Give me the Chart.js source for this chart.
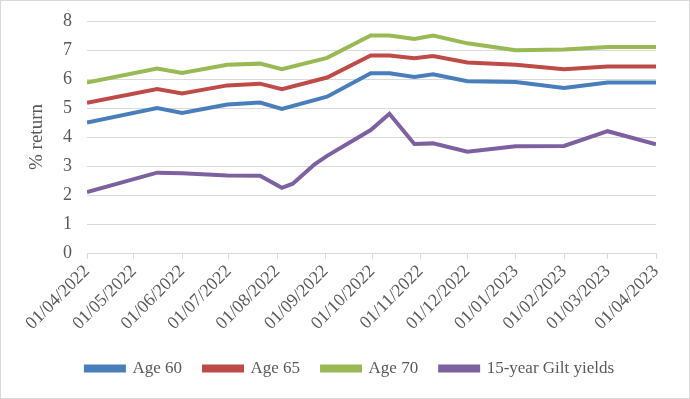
<!DOCTYPE html>
<html>
<head>
<meta charset="utf-8">
<script src="https://cdn.jsdelivr.net/npm/chart.js@4.4.1/dist/chart.umd.min.js"></script>
<style>
  html, body { margin: 0; padding: 0; background: #fff; }
  #wrap { width: 690px; height: 399px; position: relative; }
</style>
</head>
<body>
<div id="wrap"><canvas id="chart"></canvas></div>
<script>
// x-axis tick labels (month starts)
const tickLabels = [
  '01/04/2022', '01/05/2022', '01/06/2022', '01/07/2022', '01/08/2022',
  '01/09/2022', '01/10/2022', '01/11/2022', '01/12/2022', '01/01/2023',
  '01/02/2023', '01/03/2023', '01/04/2023'
];

// observation dates
const dates = [
  '2022-04-01', '2022-05-16', '2022-06-01', '2022-06-30', '2022-07-21',
  '2022-08-04', '2022-08-11', '2022-08-25', '2022-09-02', '2022-09-30',
  '2022-10-12', '2022-10-28', '2022-11-09', '2022-12-01', '2023-01-01',
  '2023-02-01', '2023-03-01', '2023-04-01'
];

const age60 = [4.50, 5.00, 4.83, 5.12, 5.19, 4.97, null, null, 5.39, 6.20, 6.20, 6.07, 6.16, 5.92, 5.90, 5.69, 5.88, 5.88];
const age65 = [5.18, 5.65, 5.50, 5.78, 5.84, 5.65, null, null, 6.05, 6.81, 6.81, 6.72, 6.79, 6.57, 6.49, 6.34, 6.43, 6.43];
const age70 = [5.88, 6.36, 6.21, 6.49, 6.53, 6.34, null, null, 6.73, 7.50, 7.50, 7.38, 7.50, 7.23, 6.99, 7.02, 7.10, 7.10];
const gilt  = [2.10, 2.77, 2.75, 2.67, 2.66, 2.25, 2.39, 3.06, 3.35, 4.24, 4.80, 3.76, 3.78, 3.49, 3.68, 3.69, 4.20, 3.75];

const DAY   = 86400000;
const START = Date.UTC(2022, 3, 1);

const isoDay = s => {
  const [y, m, d] = s.split('-').map(Number);
  return Math.round((Date.UTC(y, m - 1, d) - START) / DAY);
};
const labelDay = s => {
  const [d, m, y] = s.split('/').map(Number);
  return Math.round((Date.UTC(y, m - 1, d) - START) / DAY);
};

const FONT       = 'Liberation Serif';
const TEXT_COLOR = '#595959';
const GRID_COLOR = '#d9d9d9';

function series(label, values, color) {
  return {
    label,
    data: values.map((v, i) => ({ x: isoDay(dates[i]), y: v })),
    borderColor:     color,
    backgroundColor: color,
    borderWidth:     4,
    pointRadius:     0,
    tension:         0,
    spanGaps:        true,
  };
}

// thin outer frame + nudge the legend to sit under the plot like the original
const frame = {
  id: 'frame',
  afterLayout(c) {
    c.legend.left  += 22;
    c.legend.right += 22;
  },
  afterDraw(c) {
    const ctx = c.ctx;
    ctx.save();
    ctx.strokeStyle = GRID_COLOR;
    ctx.lineWidth = 1;
    ctx.strokeRect(0.5, 0.5, c.width - 1, c.height - 1);
    ctx.restore();
  },
};

new Chart(document.getElementById('chart'), {
  type: 'line',
  data: {
    datasets: [
      series('Age 60', age60, '#4a7ebb'),
      series('Age 65', age65, '#be4b48'),
      series('Age 70', age70, '#98b954'),
      series('15-year Gilt yields', gilt, '#7d60a0'),
    ],
  },
  options: {
    responsive:          true,
    maintainAspectRatio: false,
    animation:           false,
    layout: { padding: { left: 0, right: 34, top: 21, bottom: 12 } },
    plugins: {
      legend: {
        position: 'bottom',
        labels: {
          color:     TEXT_COLOR,
          font:      { family: FONT, size: 17 },
          boxWidth:  38,
          boxHeight: 4,
          padding:   22,
        },
      },
      tooltip: { enabled: false },
    },
    scales: {
      x: {
        type: 'linear',
        min:  0,
        max:  labelDay(tickLabels[tickLabels.length - 1]),
        afterBuildTicks: scale => {
          scale.ticks = tickLabels.map(l => ({ value: labelDay(l) }));
        },
        afterFit: scale => { scale.height = 85; },
        ticks: {
          color:       TEXT_COLOR,
          font:        { family: FONT, size: 18 },
          minRotation: 45,
          maxRotation: 45,
          autoSkip:    false,
          padding:     2,
          callback:    (v, i) => tickLabels[i],
        },
        grid:   { drawOnChartArea: false, drawTicks: true, tickLength: 6, color: GRID_COLOR },
        border: { color: GRID_COLOR },
      },
      y: {
        min: 0,
        max: 8,
        afterFit: scale => {
          scale.width = 87;
          scale.paddingTop = 0;
          scale.paddingBottom = 0;
        },
        ticks: {
          stepSize: 1,
          color:    TEXT_COLOR,
          font:     { family: FONT, size: 18 },
          padding:  15,
        },
        grid:   { color: GRID_COLOR, drawTicks: false },
        border: { display: false },
        title: {
          display: true,
          text:    '% return',
          color:   TEXT_COLOR,
          font:    { family: FONT, size: 19 },
          padding: { top: 26, bottom: 0 },
        },
      },
    },
  },
  plugins: [frame],
});
</script>
</body>
</html>
